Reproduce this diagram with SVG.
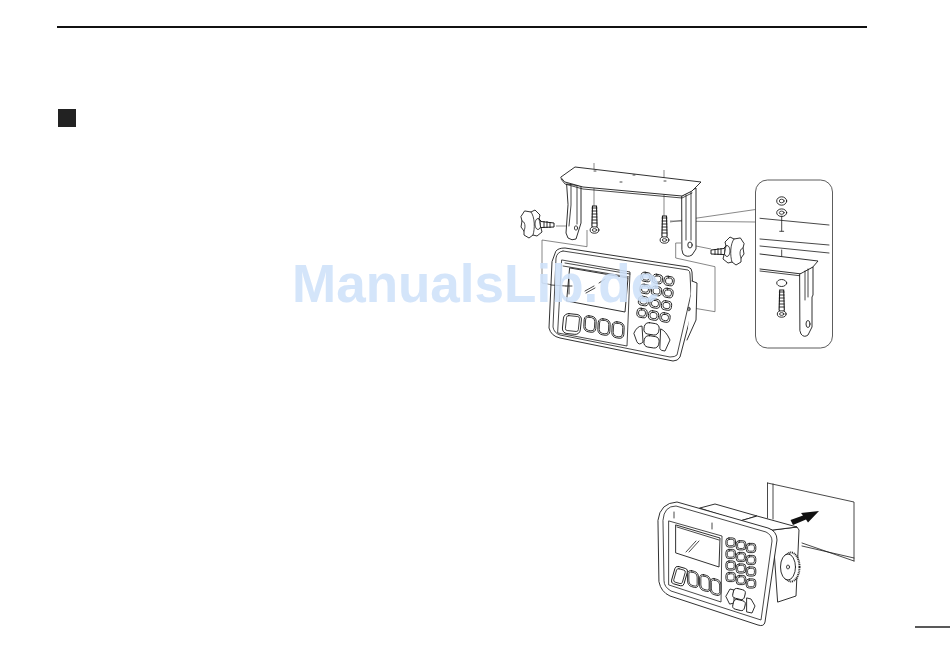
<svg xmlns="http://www.w3.org/2000/svg" width="950" height="672" viewBox="0 0 950 672">
<style>
.l{fill:none;stroke:#1a1a1a;stroke-width:.8;stroke-linejoin:round;stroke-linecap:round}
.w{fill:#fff;stroke:#1a1a1a;stroke-width:.9;stroke-linejoin:round;stroke-linecap:round}
.t{fill:none;stroke:#555;stroke-width:.7}
.wm{font-family:"Liberation Sans",Arial,sans-serif;font-weight:700;font-size:53px;fill:#cfe2fa;opacity:.88}
</style>
<defs>
<g id="k1"><rect x="-5" y="-4.500" width="10" height="9" rx="3.600" class="w"/><rect x="-3.400" y="-3" width="6.800" height="6" rx="2.400" class="l"/></g>
<g id="k2"><rect x="-4.800" y="-4.600" width="9.600" height="9.200" rx="3" class="w"/><rect x="-3.400" y="-3.200" width="6.800" height="6.400" rx="2" class="l"/></g>
<g id="rk"><rect x="-6" y="-8" width="12" height="16" rx="4.500" class="w"/><rect x="-4.600" y="-6.600" width="9.200" height="13.200" rx="3.400" class="l"/></g>
<g id="screw"><path d="M-2 0L-2.600 20L0 26L2.600 20L2 0Z" fill="#fff" stroke="#1a1a1a" stroke-width="1.100"/><path d="M-2.800 2H2.800M-2.800 5H2.800M-2.800 8H2.800M-2.800 11H2.800M-2.800 14H2.800M-2.800 17H2.800" stroke="#1a1a1a" stroke-width=".9"/><ellipse cx="0" cy="24" rx="4.400" ry="3.200" class="w"/><ellipse cx="0" cy="24" rx="2.200" ry="1.400" class="l"/></g>
<g id="knob"><path d="M-7 -13L-1 -12L3 -14L8 -9L7 -5L11 -1L9 4L10 8L5 12L1 11L-3 14L-8 11L-8 7L-11 3L-10 -3L-11 -7Z" class="w" stroke-width="1.100"/><path d="M-1 -12C3 -7 3 5 1 11M7 -5C8 -2 8 3 9 4M-8 7C-6 3 -7 -3 -10 -3" class="l"/><ellipse cx="6" cy="0" rx="3" ry="5.500" class="l"/><path d="M9 -2.500L22 -1L22 3L9 3.500" fill="#fff" stroke="#1a1a1a" stroke-width="1"/><path d="M12 -3V4M15 -3V4M18 -2V4" stroke="#1a1a1a" stroke-width=".9"/></g>
</defs>

<g id="page-rules">
<line x1="57" y1="27" x2="867" y2="27" stroke="#111" stroke-width="2"/>
<rect id="section-mark" x="58" y="109" width="18" height="18" fill="#222"/>
<line x1="915" y1="627" x2="950" y2="627" stroke="#222" stroke-width="1.400"/>
</g>

<g id="connectors">
<path class="t" d="M594 163V206M664 170V216"/>
<path class="t" d="M542 240L587 246.700V230M542 240V283L553 285M556 226H566"/>
<path class="t" d="M681 243H675.700V258L715 266.700V311.700L693 308M696 246L711 249"/>
<path class="t" d="M670 222L755.500 209.500M670 221L755.500 222"/>
</g>

<g id="bracket">
<path class="w" d="M567 184L581 186V223L576 239Q572 241 568 238L566 233L568 205Z"/>
<path class="l" d="M571 186V205L569 226M577 186V224"/>
<ellipse cx="576" cy="228" rx="1.600" ry="2.200" class="l"/>
<path class="w" d="M682 196L696 188V249L692 255Q687 258 683 254L682 250Z"/>
<path class="l" d="M686 195V240M691 192V240"/>
<ellipse cx="690" cy="245" rx="2.200" ry="3" class="w"/>
<path class="w" d="M561 177L575 167L701 182L692 191L682 196L583 187L565 182Z"/>
<path class="l" d="M561 179L565 184L583 189L682 198L692 193"/>
<path class="l" d="M594 171h2M620 182h2M633 175h2M664 181h2" stroke-width="1.400"/>
</g>
<use id="screw-left" href="#screw" x="594.500" y="206"/>
<use id="screw-right" href="#screw" x="664.500" y="216"/>
<use id="knob-left" href="#knob" transform="translate(532 224)"/>
<use id="knob-right" href="#knob" transform="translate(733 251) scale(-1 1)"/>

<g id="radio-bracket-view">
<path class="w" d="M556 251Q558 248 565 248L688 267Q692 268 692 272L693 295L691 315L680 357Q678 361 673 361L560 338Q551 336 549 328L552 262Z"/>
<path class="l" d="M563 251L688 270Q690 271 690 274L691 294L677 355Q675 357 670 357L560 335Q554 333 553 327L556 258Q557 252 563 251"/>
<path class="w" d="M692 281L697 283L696 320L687 340"/>
<path class="l" d="M562 260L630 272L627 346L558 333Z"/>
<path class="l" d="M565 263L630 274M563 266L629 277"/>
<path class="w" d="M570 268L628 278L625 312L567 301Z"/>
<path class="l" d="M585 291L594 286M586 293L595 288M599 283L605 279"/>
<path class="l" d="M569 279V294M566 286H572M551 285L566 286"/>
<rect x="563" y="314" width="18" height="20" rx="5" class="w" transform="rotate(6 572 323)"/>
<rect x="566" y="316" width="13" height="15" rx="2" class="l" transform="rotate(6 572 323)"/>
<use href="#rk" transform="matrix(1 .16 -.05 1 590 324)"/>
<use href="#rk" transform="matrix(1 .16 -.05 1 604 327)"/>
<use href="#rk" transform="matrix(1 .16 -.05 1 618 330)"/>
<g id="keys-1">
<use href="#k1" transform="matrix(1 .18 -.14 1 646 277)"/><use href="#k1" transform="matrix(1 .18 -.14 1 657.500 279)"/><use href="#k1" transform="matrix(1 .18 -.14 1 669 281)"/>
<use href="#k1" transform="matrix(1 .18 -.14 1 645 289)"/><use href="#k1" transform="matrix(1 .18 -.14 1 656.500 291)"/><use href="#k1" transform="matrix(1 .18 -.14 1 668 293)"/>
<use href="#k1" transform="matrix(1 .18 -.14 1 643.500 301)"/><use href="#k1" transform="matrix(1 .18 -.14 1 655 303.500)"/><use href="#k1" transform="matrix(1 .18 -.14 1 666.500 305.500)"/>
<use href="#k1" transform="matrix(1 .18 -.14 1 642 313)"/><use href="#k1" transform="matrix(1 .18 -.14 1 653.500 315.500)"/><use href="#k1" transform="matrix(1 .18 -.14 1 665 317.500)"/>
</g>
<g id="nav-1">
<path class="w" d="M634 333Q637 326 642 326L643 342Q639 346 637 342Z"/>
<path class="w" d="M661 329Q666 331 670 340L665 351Q661 351 660 349Z"/>
<rect x="644" y="323" width="15" height="11.500" rx="4.500" class="w" transform="rotate(9 651 329)"/>
<rect x="644" y="336" width="15" height="11.500" rx="4.500" class="w" transform="rotate(9 651 342)"/>
</g>
<ellipse cx="689" cy="309" rx="1" ry="2" class="l"/>
</g>

<g id="inset">
<rect x="755.500" y="180" width="77" height="168" rx="12" fill="#fff" stroke="#333" stroke-width=".8"/>
<ellipse cx="781.700" cy="201" rx="5" ry="4.200" class="w" stroke-width="1.400"/><ellipse cx="781.700" cy="201" rx="2.400" ry="1.800" class="l"/>
<ellipse cx="781.700" cy="212.700" rx="5" ry="3.800" class="w" stroke-width="1.400"/><ellipse cx="781.700" cy="212.700" rx="2.400" ry="1.600" class="l"/>
<path class="l" d="M760 218.300L829 225M781.700 216V231M779.700 231.300h4M760 239L829 245M760 246L829 253M781.700 250V262M779.700 263h4"/>
<path class="w" d="M760 269L802 274L812 268L818 261L760 254" />
<path class="l" d="M760 271L802 276"/>
<path class="w" d="M800 274L813 267V295L812 297V327L808 335Q804 338 801 334L800 331Z"/>
<path class="l" d="M805 271V300M808 269V297"/>
<ellipse cx="808" cy="324" rx="2" ry="3.500" class="w"/>
<ellipse cx="781.700" cy="283" rx="5" ry="3.500" class="w" stroke-width="1.400"/>
<use href="#screw" x="781.700" y="290"/>
</g>

<g id="panel-cutout">
<path class="l" d="M767.500 483V518M773 484V519M767.500 483L854 502V561M802 543L854 561M802 546L854 558" stroke-width="1"/>
<path id="insert-arrow" fill="#111" d="M790.500 520L803 515.500L801 513L819 511L808 522.500L806 519.500L793 525Z"/>
</g>

<g id="radio-panel-view">
<path class="w" d="M773 530L797 527L799 530L796 596L778 602Z"/>
<path class="w" d="M700 508L715 504L757 516L740 521Z"/>
<path class="w" d="M740 521L757 516L797 527L773 530Z"/>
<path class="w" d="M658 520Q660 503 677 502L768 528Q777 531 777 540L765 622Q764 627 758 625L670 596Q661 592 659 582Z"/>
<path class="l" d="M663 520Q664 506 676 506L766 532Q772 535 772 541L761 620L671 591Q664 587 664 581Z"/>
<path class="l" d="M669 521L722 536L721 602L669 585Z"/>
<path class="l" d="M674 512V518M712 523V529"/>
<path class="w" d="M676 525L720 538L719 567L676 553Z"/>
<path class="l" d="M677 527L719 540"/>
<path class="l" d="M686 552L696 541M689 552L699 541"/>
<ellipse cx="791" cy="567" rx="8.500" ry="14.500" fill="#fff" stroke="#222" stroke-width="2" stroke-dasharray="1 .8"/>
<ellipse cx="788" cy="567" rx="7.500" ry="13" class="w"/>
<ellipse cx="788" cy="567" rx="1.500" ry="2" class="l"/>
<rect x="673" y="567" width="13" height="18" rx="3" class="w" transform="rotate(16 679 576)"/>
<rect x="675" y="569" width="9" height="14" rx="2" class="l" transform="rotate(16 679 576)"/>
<use href="#rk" transform="matrix(.9 .26 0 1 693 579)"/>
<use href="#rk" transform="matrix(.9 .26 0 1 705 583)"/>
<use href="#rk" transform="matrix(.9 .26 0 1 715.500 587)"/>
<g id="keys-2">
<use href="#k2" x="730.700" y="542.500"/><use href="#k2" x="741" y="545.300"/><use href="#k2" x="751" y="548"/>
<use href="#k2" x="730.700" y="554"/><use href="#k2" x="741" y="557"/><use href="#k2" x="751" y="560"/>
<use href="#k2" x="730.700" y="565.500"/><use href="#k2" x="741" y="568.500"/><use href="#k2" x="751" y="571.500"/>
<use href="#k2" x="730.700" y="577"/><use href="#k2" x="741" y="580"/><use href="#k2" x="751" y="583.500"/>
</g>
<g id="nav-2">
<path class="w" d="M726 596L730 589L734 590L734 603L730 604Z"/>
<path class="w" d="M747 598L751 599L755 606L752 613L747 612Z"/>
<rect x="733" y="589" width="12" height="10" rx="3.500" class="w" transform="rotate(14 739 594)"/>
<rect x="733" y="600" width="12" height="10" rx="3.500" class="w" transform="rotate(14 739 605)"/>
</g>
</g>

<text id="watermark" class="wm" x="292" y="302">ManualsLib.de</text>
</svg>
